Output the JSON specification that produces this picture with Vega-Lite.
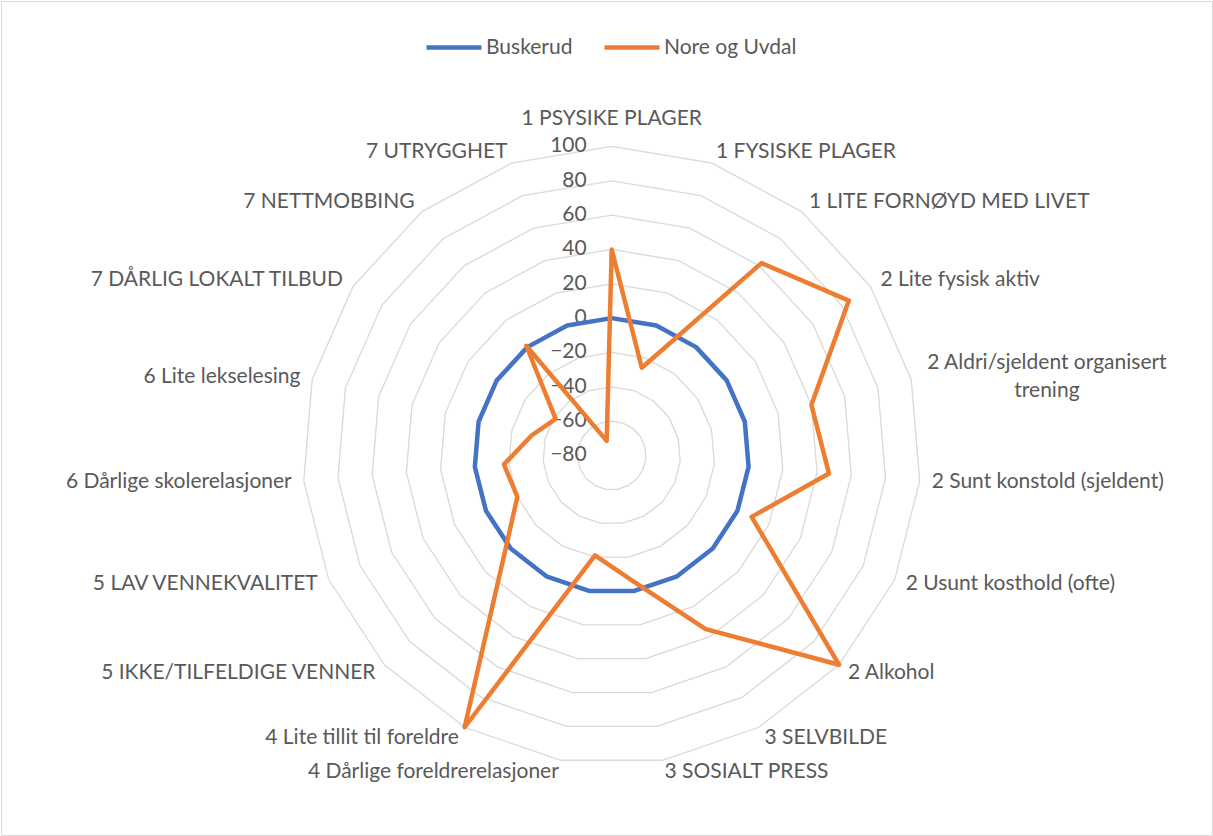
{
  "$schema": "https://vega.github.io/schema/vega-lite/v6.json",
  "width": 1213,
  "height": 836,
  "autosize": {"type": "fit", "contains": "padding"},
  "padding": 1,
  "background": "white",
  "config": {"view": {"stroke": "#D9D9D9", "strokeWidth": 1}, "font": "Lato"},
  "data": {
    "values": [
      {"idx": 0, "cat": "1 PSYSIKE PLAGER", "Buskerud": 0, "Nore og Uvdal": 40},
      {"idx": 1, "cat": "1 FYSISKE PLAGER", "Buskerud": 0, "Nore og Uvdal": -26},
      {"idx": 2, "cat": "1 LITE FORNØYD MED LIVET", "Buskerud": 0, "Nore og Uvdal": 62},
      {"idx": 3, "cat": "2 Lite fysisk aktiv", "Buskerud": 0, "Nore og Uvdal": 85},
      {"idx": 4, "cat": "2 Aldri/sjeldent organisert\ntrening", "Buskerud": 0, "Nore og Uvdal": 40},
      {"idx": 5, "cat": "2 Sunt konstold (sjeldent)", "Buskerud": 0, "Nore og Uvdal": 47},
      {"idx": 6, "cat": "2 Usunt kosthold (ofte)", "Buskerud": 0, "Nore og Uvdal": 9},
      {"idx": 7, "cat": "2 Alkohol", "Buskerud": 0, "Nore og Uvdal": 100},
      {"idx": 8, "cat": "3 SELVBILDE", "Buskerud": 0, "Nore og Uvdal": 35},
      {"idx": 9, "cat": "3 SOSIALT PRESS", "Buskerud": 0, "Nore og Uvdal": -6},
      {"idx": 10, "cat": "4 Dårlige foreldrerelasjoner", "Buskerud": 0, "Nore og Uvdal": -21},
      {"idx": 11, "cat": "4 Lite tillit til foreldre", "Buskerud": 0, "Nore og Uvdal": 100},
      {"idx": 12, "cat": "5 IKKE/TILFELDIGE VENNER", "Buskerud": 0, "Nore og Uvdal": 5},
      {"idx": 13, "cat": "5 LAV VENNEKVALITET", "Buskerud": 0, "Nore og Uvdal": -20},
      {"idx": 14, "cat": "6 Dårlige skolerelasjoner", "Buskerud": 0, "Nore og Uvdal": -17},
      {"idx": 15, "cat": "6 Lite lekselesing", "Buskerud": 0, "Nore og Uvdal": -32},
      {"idx": 16, "cat": "7 DÅRLIG LOKALT TILBUD", "Buskerud": 0, "Nore og Uvdal": -41},
      {"idx": 17, "cat": "7 NETTMOBBING", "Buskerud": 0, "Nore og Uvdal": 1},
      {"idx": 18, "cat": "7 UTRYGGHET", "Buskerud": 0, "Nore og Uvdal": -71}
    ]
  },
  "transform": [
    {"calculate": "datum.idx * 2 * PI / 19", "as": "ang"}
  ],
  "encoding": {
    "x": {"field": "x", "type": "quantitative", "scale": {"domain": [-1.9764, 1.9427], "nice": false, "zero": false}, "axis": null},
    "y": {"field": "y", "type": "quantitative", "scale": {"domain": [-1.2282, 1.4708], "nice": false, "zero": false}, "axis": null}
  },
  "layer": [
    {
      "transform": [
        {"calculate": "[-60,-40,-20,0,20,40,60,80,100]", "as": "lv"},
        {"flatten": ["lv"]},
        {"calculate": "(datum.lv + 80) / 180 * sin(datum.ang)", "as": "x"},
        {"calculate": "(datum.lv + 80) / 180 * cos(datum.ang)", "as": "y"}
      ],
      "mark": {"type": "line", "interpolate": "linear-closed", "stroke": "#D9D9D9", "strokeWidth": 1.3},
      "encoding": {"detail": {"field": "lv", "type": "nominal"}, "order": {"field": "idx", "type": "quantitative"}}
    },
    {
      "transform": [
        {"filter": "datum.idx == 0"},
        {"calculate": "[-80,-60,-40,-20,0,20,40,60,80,100]", "as": "lv"},
        {"flatten": ["lv"]},
        {"calculate": "0", "as": "x"},
        {"calculate": "(datum.lv + 80) / 180", "as": "y"}
      ],
      "mark": {"type": "text", "align": "right", "baseline": "middle", "dx": -25, "fontSize": 21, "color": "#595959", "font": "Lato"},
      "encoding": {"text": {"field": "lv", "type": "quantitative"}}
    },
    {
      "transform": [
        {"fold": ["Buskerud", "Nore og Uvdal"], "as": ["series", "value"]},
        {"calculate": "(datum.value + 80) / 180 * sin(datum.ang)", "as": "x"},
        {"calculate": "(datum.value + 80) / 180 * cos(datum.ang)", "as": "y"}
      ],
      "mark": {"type": "line", "interpolate": "linear-closed", "strokeWidth": 4.5, "strokeJoin": "round", "strokeCap": "round"},
      "encoding": {
        "order": {"field": "idx", "type": "quantitative"},
        "color": {
          "field": "series", "type": "nominal",
          "scale": {"domain": ["Buskerud", "Nore og Uvdal"], "range": ["#4472C4", "#ED7D31"]},
          "legend": {
            "orient": "none", "legendX": 423, "legendY": 16.5, "direction": "horizontal", "title": null,
            "symbolType": "stroke", "symbolSize": 3025, "symbolStrokeWidth": 4.5,
            "labelFont": "Lato", "labelFontSize": 21, "labelColor": "#595959",
            "columnPadding": 22, "labelOffset": 2, "padding": 0
          }
        }
      }
    },
    {
      "transform": [
        {"filter": "datum.idx == 0"},
        {"calculate": "1.039 * sin(datum.ang)", "as": "x"},
        {"calculate": "1.039 * cos(datum.ang)", "as": "y"}
      ],
      "mark": {"type": "text", "align": "center", "baseline": "middle", "dy": -15.5, "fontSize": 21, "color": "#595959", "font": "Lato"},
      "encoding": {"text": {"field": "cat", "type": "nominal"}}
    },
    {
      "transform": [
        {"filter": "datum.idx >= 1 && datum.idx <= 9 && datum.idx != 4"},
        {"calculate": "1.039 * sin(datum.ang)", "as": "x"},
        {"calculate": "1.039 * cos(datum.ang)", "as": "y"}
      ],
      "mark": {"type": "text", "align": "left", "baseline": "middle", "fontSize": 21, "color": "#595959", "font": "Lato"},
      "encoding": {"text": {"field": "cat", "type": "nominal"}}
    },
    {
      "transform": [
        {"filter": "datum.idx == 4"},
        {"calculate": "1.039 * sin(datum.ang)", "as": "x"},
        {"calculate": "1.039 * cos(datum.ang)", "as": "y"}
      ],
      "mark": {"type": "text", "align": "center", "baseline": "middle", "dx": 124, "dy": -14, "lineBreak": "\n", "lineHeight": 28, "fontSize": 21, "color": "#595959", "font": "Lato"},
      "encoding": {"text": {"field": "cat", "type": "nominal"}}
    },
    {
      "transform": [
        {"filter": "datum.idx >= 10"},
        {"calculate": "1.039 * sin(datum.ang)", "as": "x"},
        {"calculate": "1.039 * cos(datum.ang)", "as": "y"}
      ],
      "mark": {"type": "text", "align": "right", "baseline": "middle", "fontSize": 21, "color": "#595959", "font": "Lato"},
      "encoding": {"text": {"field": "cat", "type": "nominal"}}
    }
  ]
}
